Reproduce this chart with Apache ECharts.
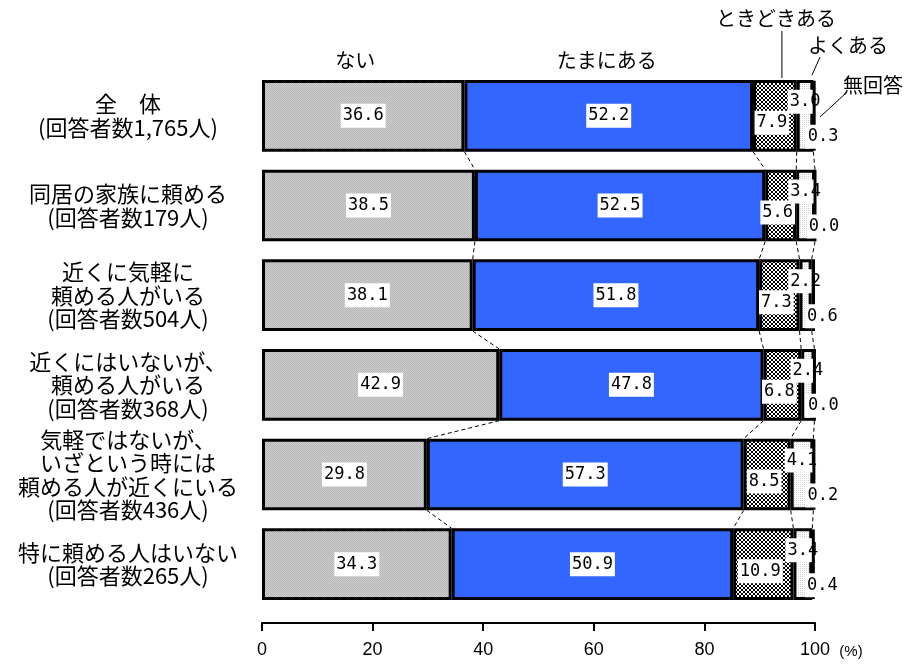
<!DOCTYPE html>
<html>
<head>
<meta charset="utf-8">
<script src="https://cdn.jsdelivr.net/npm/echarts@6/dist/echarts.min.js"></script>
<style>
html,body{margin:0;padding:0;background:#fff;}
#main{width:911px;height:666px;}
</style>
</head>
<body>
<div id="main"></div>
<script>
var categories = [
  '全　体\n(回答者数1,765人)',
  '同居の家族に頼める\n(回答者数179人)',
  '近くに気軽に\n頼める人がいる\n(回答者数504人)',
  '近くにはいないが、\n頼める人がいる\n(回答者数368人)',
  '気軽ではないが、\nいざという時には\n頼める人が近くにいる\n(回答者数436人)',
  '特に頼める人はいない\n(回答者数265人)'
];
var seriesNames = ['ない', 'たまにある', 'ときどきある', 'よくある', '無回答'];
var nai      = [36.6, 38.5, 38.1, 42.9, 29.8, 34.3];
var tamani   = [52.2, 52.5, 51.8, 47.8, 57.3, 50.9];
var tokidoki = [7.9, 5.6, 7.3, 6.8, 8.5, 10.9];
var yoku     = [3.0, 3.4, 2.2, 2.4, 4.1, 3.4];
var mukaitou = [0.3, 0.0, 0.6, 0.0, 0.2, 0.4];
var xTicks = [0, 20, 40, 60, 80, 100];

var seriesValues = [nai, tamani, tokidoki, yoku, mukaitou];

function makePattern(size, draw) {
  var c = document.createElement('canvas');
  c.width = size; c.height = size;
  var ctx = c.getContext('2d');
  draw(ctx);
  return {image: c, repeat: 'repeat'};
}
var patGray = makePattern(2, function (ctx) {
  ctx.fillStyle = '#cfcfcf'; ctx.fillRect(0, 0, 2, 2);
  ctx.fillStyle = '#b4b4b4'; ctx.fillRect(0, 0, 1, 1); ctx.fillRect(1, 1, 1, 1);
});
var patCross = makePattern(4, function (ctx) {
  ctx.fillStyle = '#ffffff'; ctx.fillRect(0, 0, 4, 4);
  ctx.fillStyle = '#000000';
  for (var i = 0; i < 4; i++) { ctx.fillRect(i, i, 1, 1); ctx.fillRect(3 - i, i, 1, 1); }
});
var patLight = makePattern(2, function (ctx) {
  ctx.fillStyle = '#ffffff'; ctx.fillRect(0, 0, 2, 2);
  ctx.fillStyle = '#cfcfcf'; ctx.fillRect(0, 0, 1, 1);
});
var fills = [patGray, '#3366ff', patCross, patLight, '#ffffff'];

var numFont = 'DejaVu Sans Mono';
var labelBase = {
  show: true,
  formatter: function (p) { return Number(p.value).toFixed(1); },
  fontFamily: numFont,
  fontSize: 17,
  color: '#000',
  backgroundColor: '#fff',
  padding: [4, 2, 3, 2]
};
var labelCfgs = [
  {position: 'inside'},
  {position: 'inside'},
  {position: 'inside', offset: [-3, 7]},
  {position: 'inside', offset: [0, -14]},
  {position: 'inside', offset: [9, 21]}
];

var series = seriesNames.map(function (name, k) {
  return {
    name: name,
    type: 'bar',
    stack: 'total',
    barWidth: '80%',
    data: seriesValues[k],
    itemStyle: {color: fills[k], borderColor: '#000', borderWidth: 3},
    label: Object.assign({}, labelBase, labelCfgs[k]),
    emphasis: {disabled: true},
    z: 2 + k
  };
});

// dashed connectors between consecutive bars at each segment boundary
var connData = [];
for (var i = 0; i < categories.length - 1; i++) {
  var c1 = 0, c2 = 0;
  for (var k = 0; k < seriesValues.length - 1; k++) {
    c1 += seriesValues[k][i];
    c2 += seriesValues[k][i + 1];
    connData.push([c1, i, c2]);
  }
}
series.push({
  type: 'custom',
  data: connData,
  encode: {x: [0, 2], y: 1},
  silent: true,
  z: 1,
  renderItem: function (params, api) {
    var p1 = api.coord([api.value(0), api.value(1)]);
    var p2 = api.coord([api.value(2), api.value(1) + 1]);
    var half = api.size([0, 1])[1] * 0.4;
    return {
      type: 'line',
      shape: {x1: p1[0], y1: p1[1] + half, x2: p2[0], y2: p2[1] - half},
      style: {stroke: '#000', lineWidth: 1, lineDash: [4, 3]}
    };
  }
});

var chart = echarts.init(document.getElementById('main'), null, {renderer: 'canvas'});
var option = {
  animation: false,
  backgroundColor: '#fff',
  grid: {left: 262, right: 96, top: 71, bottom: 57},
  xAxis: {
    type: 'value',
    min: xTicks[0],
    max: xTicks[xTicks.length - 1],
    interval: xTicks[1] - xTicks[0],
    offset: 14,
    axisLine: {show: true, lineStyle: {color: '#000', width: 2}},
    axisTick: {show: true, length: 8, lineStyle: {color: '#000', width: 2}},
    splitLine: {show: false},
    axisLabel: {color: '#000', fontSize: 18, fontFamily: 'Liberation Sans', margin: 18}
  },
  yAxis: {
    type: 'category',
    inverse: true,
    data: categories,
    axisLine: {show: false},
    axisTick: {show: false},
    axisLabel: {
      color: '#000', fontSize: 22, lineHeight: 23.5, align: 'center', margin: 134,
      fontFamily: 'Noto Sans CJK JP'
    }
  },
  series: series
};
chart.setOption(option);

// annotations placed relative to the first bar's segments
function xp(v) { return chart.convertToPixel({xAxisIndex: 0}, v); }
var c0 = [];
var acc = 0;
for (var k = 0; k < seriesValues.length; k++) { c0.push([acc, acc + seriesValues[k][0]]); acc += seriesValues[k][0]; }
var annFont = '20px "Noto Sans CJK JP"';
function txt(s, x, y, font) {
  return {type: 'text', x: x, y: y, style: {text: s, font: font || annFont, fill: '#000', textAlign: 'center', textVerticalAlign: 'middle'}};
}
function ln(x1, y1, x2, y2) {
  return {type: 'line', shape: {x1: x1, y1: y1, x2: x2, y2: y2}, style: {stroke: '#000', lineWidth: 1}};
}
var midNai = xp((c0[0][0] + c0[0][1]) / 2);
var midTam = xp((c0[1][0] + c0[1][1]) / 2);
var midTok = xp((c0[2][0] + c0[2][1]) / 2);
var midYok = xp((c0[3][0] + c0[3][1]) / 2);
var endX = xp(100);
chart.setOption({
  graphic: [
    txt('ない', midNai - 8, 60),
    txt('たまにある', midTam - 2, 60),
    txt('ときどきある', midTok + 1, 18),
    ln(midTok + 7, 31, midTok + 7, 78),
    txt('よくある', midYok + 43, 45),
    ln(midYok + 15, 57, midYok + 7, 75),
    txt('無回答', endX + 58, 85),
    ln(endX + 31, 93, endX + 5, 117),
    txt('(%)', endX + 36, 652, '15px "Liberation Sans"')
  ]
});
</script>
</body>
</html>
